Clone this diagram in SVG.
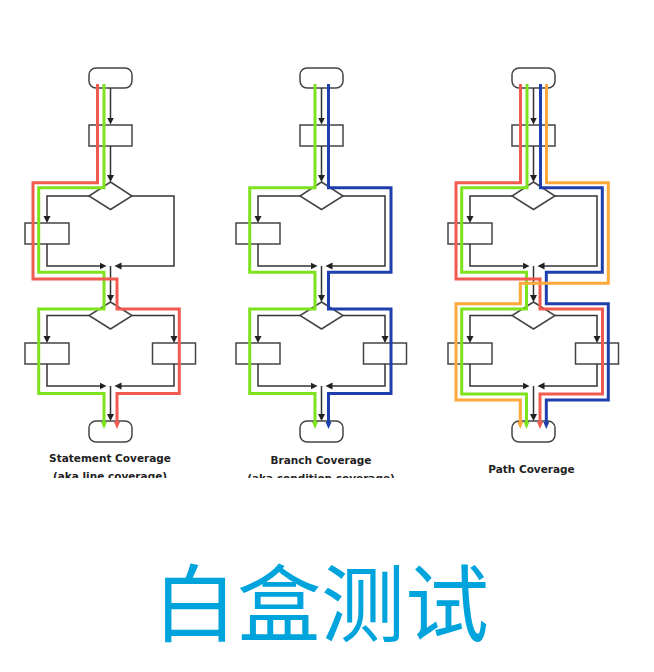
<svg xmlns="http://www.w3.org/2000/svg" width="654" height="672" viewBox="0 0 654 672">
<style>
.t{fill:#fff;stroke:#444;stroke-width:1.5}
.b{fill:#fff;stroke:#444;stroke-width:1.5}
.k{fill:none;stroke:#333;stroke-width:1.5;marker-end:url(#ak)}
.c{fill:none;stroke-width:3;stroke-linejoin:miter}
.r{stroke:#f15a4f;marker-end:url(#ar)}
.g{stroke:#7ee21d;marker-end:url(#ag)}
.u{stroke:#1f3fae;marker-end:url(#au)}
.o{stroke:#ffa83a;marker-end:url(#ao)}
.cap{font-family:"DejaVu Sans",Verdana,sans-serif;font-weight:bold;font-size:10.5px;fill:#222;text-anchor:middle}
.title{font-family:"Noto Sans CJK SC","Noto Sans",sans-serif;font-size:84px;fill:#00a4dc;text-anchor:middle}
</style>
<defs>
<marker id="ak" markerUnits="userSpaceOnUse" viewBox="-1 -4 8 8" markerWidth="8" markerHeight="8" refX="0" refY="0" orient="auto"><path d="M-1,-3.5 L6,0 L-1,3.5z" fill="#222"/></marker>
<marker id="ar" markerUnits="userSpaceOnUse" viewBox="-1 -4 8 8" markerWidth="8" markerHeight="8" refX="0" refY="0" orient="auto"><path d="M-1,-3 L6,0 L-1,3z" fill="#f15a4f"/></marker>
<marker id="ag" markerUnits="userSpaceOnUse" viewBox="-1 -4 8 8" markerWidth="8" markerHeight="8" refX="0" refY="0" orient="auto"><path d="M-1,-3 L6,0 L-1,3z" fill="#7ee21d"/></marker>
<marker id="au" markerUnits="userSpaceOnUse" viewBox="-1 -4 8 8" markerWidth="8" markerHeight="8" refX="0" refY="0" orient="auto"><path d="M-1,-3 L6,0 L-1,3z" fill="#1f3fae"/></marker>
<marker id="ao" markerUnits="userSpaceOnUse" viewBox="-1 -4 8 8" markerWidth="8" markerHeight="8" refX="0" refY="0" orient="auto"><path d="M-1,-3 L6,0 L-1,3z" fill="#ffa83a"/></marker>
<clipPath id="clip"><rect x="0" y="0" width="654" height="478"/></clipPath>
</defs>
<rect width="654" height="672" fill="#fff"/>

<!-- Chart 1: Statement Coverage -->
<g id="chart1">
<g id="c1-start"><rect class="t" x="89" y="68" width="43" height="20" rx="7"/></g>
<g id="c1-box1"><rect class="b" x="89" y="125" width="43" height="21"/></g>
<g id="c1-dec1"><path class="b" d="M110.5,182 L132,196 L110.5,209.5 L89,196z"/></g>
<g id="c1-boxL1"><rect class="b" x="25" y="223" width="44" height="21"/></g>
<g id="c1-dec2"><path class="b" d="M110.5,302 L132,315.5 L110.5,329 L89,315.5z"/></g>
<g id="c1-boxL2"><rect class="b" x="25" y="343" width="44" height="21"/></g>
<g id="c1-boxR2"><rect class="b" x="152.5" y="343" width="43" height="21"/></g>
<g id="c1-end"><rect class="t" x="89" y="421" width="43" height="21" rx="7"/></g>
<g id="c1-connectors">
<path class="k" d="M110.5,88 V118.5"/>
<path class="k" d="M110.5,146 V176"/>
<path class="k" d="M89,196 H47 V217"/>
<path class="k" d="M132,196 H174 V266 H120.5"/>
<path class="k" d="M47,244 V266 H100.5"/>
<path class="k" d="M110.5,266 V296"/>
<path class="k" d="M89,315.5 H47 V337"/>
<path class="k" d="M132,315.5 H174 V337"/>
<path class="k" d="M47,364 V386 H100.5"/>
<path class="k" d="M174,364 V386 H120.5"/>
<path class="k" d="M110.5,386 V415"/>
<path class="c g" d="M104,84 V187.7 H38.7 V272.3 H104 V309 H38.7 V393.5 H104 V423"/>
<path class="c r" d="M97.5,84 V182.7 H33 V279 H117 V309 H179.3 V393.5 H117 V423"/>
</g>
<text class="cap" x="110" y="462.3" clip-path="url(#clip)">Statement Coverage<tspan x="110" y="479.5">(aka line coverage)</tspan></text>
</g>

<!-- Chart 2: Branch Coverage -->
<g id="chart2" transform="translate(211,0)">
<g id="c2-start"><rect class="t" x="89" y="68" width="43" height="20" rx="7"/></g>
<g id="c2-box1"><rect class="b" x="89" y="125" width="43" height="21"/></g>
<g id="c2-dec1"><path class="b" d="M110.5,182 L132,196 L110.5,209.5 L89,196z"/></g>
<g id="c2-boxL1"><rect class="b" x="25" y="223" width="44" height="21"/></g>
<g id="c2-dec2"><path class="b" d="M110.5,302 L132,315.5 L110.5,329 L89,315.5z"/></g>
<g id="c2-boxL2"><rect class="b" x="25" y="343" width="44" height="21"/></g>
<g id="c2-boxR2"><rect class="b" x="152.5" y="343" width="43" height="21"/></g>
<g id="c2-end"><rect class="t" x="89" y="421" width="43" height="21" rx="7"/></g>
<g id="c2-connectors">
<path class="k" d="M110.5,88 V118.5"/>
<path class="k" d="M110.5,146 V176"/>
<path class="k" d="M89,196 H47 V217"/>
<path class="k" d="M132,196 H174 V266 H120.5"/>
<path class="k" d="M47,244 V266 H100.5"/>
<path class="k" d="M110.5,266 V296"/>
<path class="k" d="M89,315.5 H47 V337"/>
<path class="k" d="M132,315.5 H174 V337"/>
<path class="k" d="M47,364 V386 H100.5"/>
<path class="k" d="M174,364 V386 H120.5"/>
<path class="k" d="M110.5,386 V415"/>
<path class="c g" d="M104,84 V187.7 H38.7 V272.3 H104 V309 H38.7 V393.5 H104 V423"/>
<path class="c u" d="M117.5,84 V187.7 H180 V272.3 H117.5 V309 H180 V393.5 H117.5 V423"/>
</g>
<text class="cap" x="110" y="464.3" clip-path="url(#clip)">Branch Coverage<tspan x="110" y="481.5">(aka condition coverage)</tspan></text>
</g>

<!-- Chart 3: Path Coverage -->
<g id="chart3" transform="translate(423,0)">
<g id="c3-start"><rect class="t" x="89" y="68" width="43" height="20" rx="7"/></g>
<g id="c3-box1"><rect class="b" x="89" y="125" width="43" height="21"/></g>
<g id="c3-dec1"><path class="b" d="M110.5,182 L132,196 L110.5,209.5 L89,196z"/></g>
<g id="c3-boxL1"><rect class="b" x="25" y="223" width="44" height="21"/></g>
<g id="c3-dec2"><path class="b" d="M110.5,302 L132,315.5 L110.5,329 L89,315.5z"/></g>
<g id="c3-boxL2"><rect class="b" x="25" y="343" width="44" height="21"/></g>
<g id="c3-boxR2"><rect class="b" x="152.5" y="343" width="43" height="21"/></g>
<g id="c3-end"><rect class="t" x="89" y="421" width="43" height="21" rx="7"/></g>
<g id="c3-connectors">
<path class="k" d="M110.5,88 V118.5"/>
<path class="k" d="M110.5,146 V176"/>
<path class="k" d="M89,196 H47 V217"/>
<path class="k" d="M132,196 H174 V266 H120.5"/>
<path class="k" d="M47,244 V266 H100.5"/>
<path class="k" d="M110.5,266 V296"/>
<path class="k" d="M89,315.5 H47 V337"/>
<path class="k" d="M132,315.5 H174 V337"/>
<path class="k" d="M47,364 V386 H100.5"/>
<path class="k" d="M174,364 V386 H120.5"/>
<path class="k" d="M110.5,386 V415"/>
<path class="c g" d="M104,84 V187.7 H38.7 V272.3 H103.5 V309 H38.7 V394 H103.5 V423"/>
<path class="c r" d="M97.5,84 V182.7 H33 V279 H117 V309 H179.5 V394 H117 V423"/>
<path class="c u" d="M117.5,84 V187.7 H179.3 V272.3 H123.3 V303.8 H185.3 V400 H123.3 V423"/>
<path class="c o" d="M123.5,84 V182.7 H185.3 V283.3 H97.3 V303.8 H33 V400 H97.3 V423"/>
</g>
<text class="cap" x="108.5" y="472.7">Path Coverage</text>
</g>

<g id="title"><text class="title" x="321" y="635">白盒测试</text></g>
</svg>
